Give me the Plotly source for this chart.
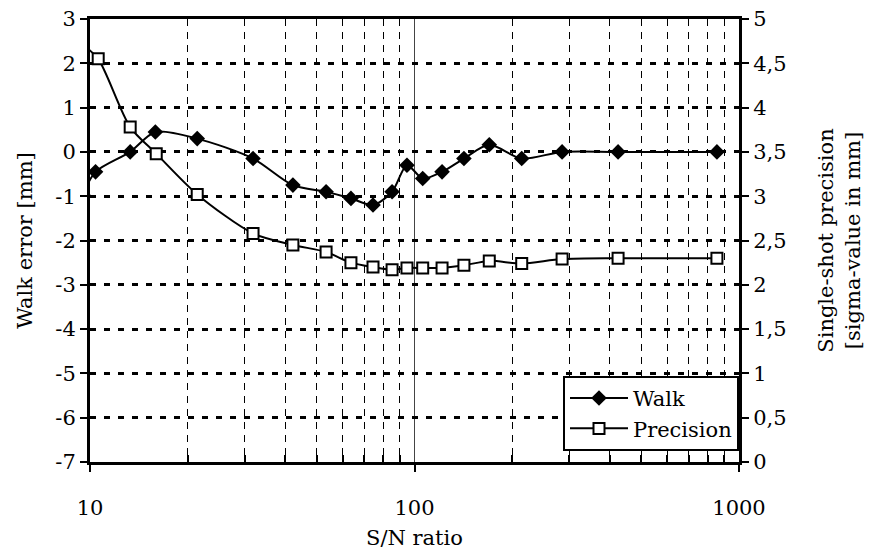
import plotly.graph_objects as go

# ---- data ----
walk_x = [9.5, 10.4, 13.3, 15.9, 21.4, 31.8, 42.2, 53.4, 63.7, 74.5, 85.3, 94.8, 106, 121.6, 142, 170, 214, 285, 424, 855]
walk_y = [-0.97, -0.45, 0.0, 0.45, 0.3, -0.15, -0.75, -0.9, -1.05, -1.2, -0.9, -0.3, -0.6, -0.45, -0.15, 0.16, -0.15, 0.0, 0.0, 0.0]

prec_x = [9.5, 10.6, 13.3, 16.0, 21.4, 31.8, 42.2, 53.4, 63.7, 74.5, 85.3, 94.8, 106, 121.6, 142, 170, 214, 285, 424, 855]
prec_y = [4.71, 4.55, 3.78, 3.48, 3.02, 2.58, 2.45, 2.37, 2.25, 2.2, 2.17, 2.19, 2.19, 2.19, 2.22, 2.27, 2.24, 2.29, 2.3, 2.3]

left_ticks = [-7, -6, -5, -4, -3, -2, -1, 0, 1, 2, 3]
right_ticks = [0, 0.5, 1, 1.5, 2, 2.5, 3, 3.5, 4, 4.5, 5]
right_labels = ["0", "0,5", "1", "1,5", "2", "2,5", "3", "3,5", "4", "4,5", "5"]
x_major = [10, 100, 1000]
x_minor = [20, 30, 40, 50, 60, 70, 80, 90, 200, 300, 400, 500, 600, 700, 800, 900]
x_title = "S/N ratio"

FONT = "DejaVu Serif"
FS = 21

fig = go.Figure()
fig.add_trace(go.Scatter(
    x=walk_x, y=walk_y, name="Walk", mode="lines+markers",
    line=dict(color="black", width=2, shape="spline", smoothing=0.8),
    marker=dict(symbol="diamond", size=12, color="black"),
    yaxis="y", cliponaxis=True,
))
fig.add_trace(go.Scatter(
    x=prec_x, y=prec_y, name="Precision", mode="lines+markers",
    line=dict(color="black", width=2, shape="spline", smoothing=0.8),
    marker=dict(symbol="square", size=11, color="white", line=dict(color="black", width=2)),
    yaxis="y2", cliponaxis=True,
))

# x-axis title placed as a paper annotation so it sits below the lowered tick labels
fig.add_annotation(
    text=x_title, xref="paper", yref="paper", x=0.5, y=-0.172,
    xanchor="center", yanchor="middle", showarrow=False,
    font=dict(family=FONT, size=FS, color="black"),
)

# the page body has an 8px margin, so the figure is drawn 8px smaller/offset
fig.update_layout(
    width=868, height=544,
    paper_bgcolor="white", plot_bgcolor="white",
    margin=dict(l=82, r=137, t=11, b=90),
    font=dict(family=FONT, size=FS, color="black"),
    showlegend=True,
    legend=dict(
        x=1, xanchor="right", y=0.025, yanchor="bottom",
        bgcolor="white", bordercolor="black", borderwidth=2,
        font=dict(family=FONT, size=FS, color="black"),
        itemwidth=58, tracegroupgap=0,
    ),
    xaxis=dict(
        type="log", range=[1, 3], automargin=False,
        tickvals=x_major, ticktext=[str(v) for v in x_major],
        showline=True, linecolor="black", linewidth=3, mirror=True,
        ticks="outside", ticklen=7, tickwidth=2, tickcolor="black",
        ticklabelstandoff=18,
        showgrid=True, gridcolor="#444", gridwidth=1,
        zeroline=False,
        minor=dict(tickvals=x_minor, ticks="inside", ticklen=7, tickwidth=1.5, tickcolor="black",
                   showgrid=True, gridcolor="black", gridwidth=1, griddash="7px,6px"),
        tickfont=dict(family=FONT, size=FS),
    ),
    yaxis=dict(
        range=[-7, 3], tickvals=left_ticks, ticktext=[str(v) for v in left_ticks],
        automargin=False, ticklabeloverflow="allow",
        showline=True, linecolor="black", linewidth=3,
        ticks="outside", ticklen=7, tickwidth=2, tickcolor="black",
        showgrid=True, gridcolor="black", gridwidth=3, griddash="6px,8px",
        zeroline=False,
        title=dict(text="Walk error [mm]", font=dict(family=FONT, size=FS), standoff=17),
        tickfont=dict(family=FONT, size=FS),
    ),
    yaxis2=dict(
        range=[0, 5], overlaying="y", side="right", automargin=False,
        ticklabeloverflow="allow",
        tickvals=right_ticks, ticktext=right_labels,
        showline=True, linecolor="black", linewidth=3,
        ticks="outside", ticklen=7, tickwidth=2, tickcolor="black",
        showgrid=False, zeroline=False,
        title=dict(text="Single-shot precision<br>[sigma-value in mm]", font=dict(family=FONT, size=FS), standoff=33),
        tickfont=dict(family=FONT, size=FS),
    ),
)

fig.write_html("out.html")
